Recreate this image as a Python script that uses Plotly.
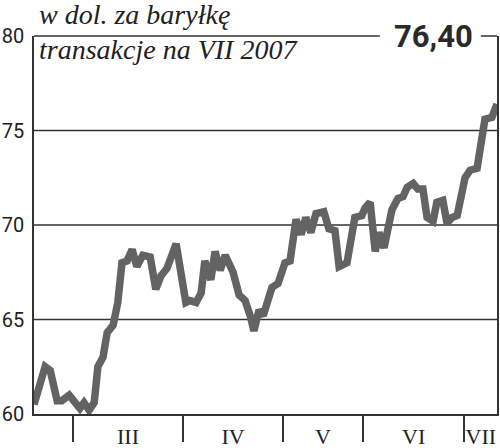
import plotly.graph_objects as go

# cena ropy, sesje (os x w jednostkach notowan), wartosci w dol. za baryłkę
days = [0, 2.4, 3.5, 5.0, 6.0, 7.6, 8.9, 9.9, 10.8, 11.9, 13.0, 13.8, 14.9, 15.8,
        17.1, 18.1, 19.0, 20.1, 21.2, 22.2, 23.5, 25.1, 26.3, 27.4, 28.7, 29.8,
        30.7, 32.8, 33.7, 35.0, 36.1, 36.9, 38.2, 39.1, 40.2, 41.3, 43.0, 44.3,
        45.6, 46.7, 47.5, 48.6, 49.5, 51.4, 52.7, 54.2, 55.3, 56.6, 57.7, 58.7,
        59.8, 60.9, 62.6, 63.7, 65.0, 65.9, 66.5, 67.6, 69.3, 70.8, 71.5, 72.6,
        73.7, 74.5, 75.6, 77.3, 78.6, 79.7, 80.6, 81.9, 82.9, 84.0, 84.9, 86.2,
        87.0, 88.3, 89.2, 90.3, 91.4, 93.1, 94.2, 95.7, 96.8, 97.4, 98.9, 100]
price = [60.5, 62.5, 62.3, 60.7, 60.7, 61.0, 60.6, 60.3, 60.6, 60.2, 60.6, 62.5,
         63.0, 64.3, 64.7, 65.9, 68.0, 68.1, 68.7, 67.8, 68.4, 68.3, 66.6, 67.3,
         67.7, 68.6, 69.0, 65.9, 66.0, 65.9, 66.4, 68.1, 67.1, 68.6, 67.6, 68.4,
         67.5, 66.3, 66.0, 65.2, 64.4, 65.5, 65.2, 66.7, 66.9, 68.0, 68.1, 70.3,
         69.5, 70.4, 69.6, 70.6, 70.7, 69.8, 69.7, 67.8, 67.9, 68.0, 70.4, 70.5,
         70.9, 71.2, 68.6, 69.6, 68.8, 70.8, 71.4, 71.5, 72.0, 72.2, 71.9, 71.9,
         70.4, 70.2, 71.2, 71.3, 70.1, 70.4, 70.5, 72.5, 72.9, 73.0, 74.7, 75.6,
         75.7, 76.4]

month_bounds = [8.4, 32.2, 53.8, 71.1, 92.9]
month_mid = [20.3, 43.0, 62.4, 82.0, 96.5]
month_labels = ["III", "IV", "V", "VI", "VII"]
y_ticks = [60, 65, 70, 75, 80]
grid_levels = [65, 70, 75]
last_value = "76,40"

AX = "#333333"

fig = go.Figure()
fig.add_trace(go.Scatter(x=days, y=price, mode="lines",
                         line=dict(color="#636363", width=7.5),
                         hoverinfo="skip", showlegend=False))

shapes = []
for g in grid_levels:
    shapes.append(dict(type="line", xref="paper", yref="y", x0=0, x1=1, y0=g, y1=g,
                       line=dict(color=AX, width=1.5), layer="below"))
# gorna krawedz z przerwa na wartosc
shapes.append(dict(type="line", xref="paper", yref="paper", x0=0, x1=0.747, y0=1, y1=1,
                   line=dict(color=AX, width=1.5)))
shapes.append(dict(type="line", xref="paper", yref="paper", x0=0.965, x1=1, y0=1, y1=1,
                   line=dict(color=AX, width=1.5)))

fig.update_layout(
    width=500, height=448,
    margin=dict(l=34, r=3, t=36, b=34),
    plot_bgcolor="white", paper_bgcolor="white",
    showlegend=False,
    shapes=shapes,
    xaxis=dict(range=[0, 100], showgrid=False, zeroline=False, automargin=False,
               showline=True, linecolor=AX, linewidth=1.5,
               tickvals=month_mid, ticktext=month_labels, ticks="",
               ticklabelstandoff=2,
               tickfont=dict(family="Liberation Serif", size=22, color="#222"),
               minor=dict(tickvals=month_bounds, ticks="outside", ticklen=26,
                          tickcolor=AX, tickwidth=1.5, showgrid=False)),
    yaxis=dict(range=[60, 80], showgrid=False, zeroline=False, automargin=False,
               showline=True, linecolor=AX, linewidth=1.5, mirror=True,
               tickvals=y_ticks, ticks="", ticklabelstandoff=4,
               tickfont=dict(family="Roboto", size=20, color="#222")),
    annotations=[
        dict(text="w dol. za baryłkę", xref="paper", yref="paper", x=0.006, y=1.056,
             xanchor="left", yanchor="middle", showarrow=False,
             font=dict(family="Liberation Serif", size=28, color="#222", style="italic")),
        dict(text="transakcje na VII 2007", xref="paper", yref="paper", x=0.006, y=0.963,
             xanchor="left", yanchor="middle", showarrow=False,
             font=dict(family="Liberation Serif", size=28, color="#222", style="italic")),
        dict(text="<b>" + last_value + "</b>", xref="paper", yref="paper", x=0.862, y=1.0,
             xanchor="center", yanchor="middle", showarrow=False,
             font=dict(family="Roboto", size=31, color="#2a2a2a")),
    ],
)

# strona bez domyslnego marginesu przegladarki
fig.write_html("out.html", config={"displayModeBar": False},
               post_script="document.body.style.margin='0';")
